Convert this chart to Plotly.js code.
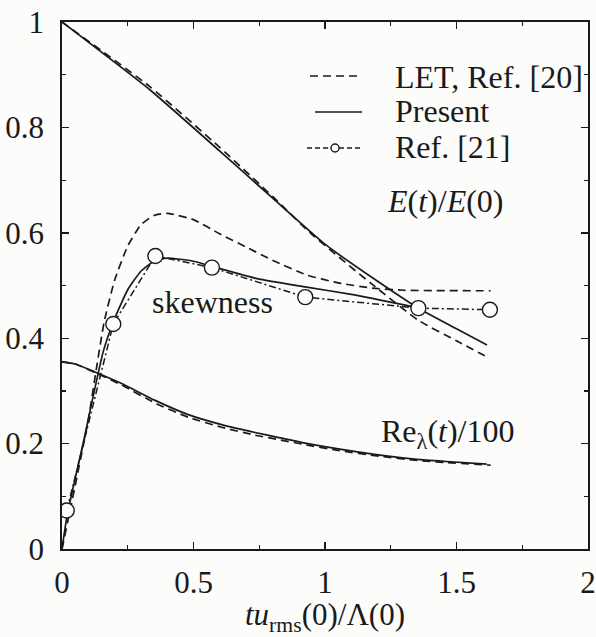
<!DOCTYPE html>
<html>
<head>
<meta charset="utf-8">
<script src="https://cdn.plot.ly/plotly-3.0.1.min.js"></script>
<style>
html,body{margin:0;padding:0;background:#fcfcfb;}
#chart{width:596px;height:637px;}
</style>
</head>
<body>
<div id="chart"></div>
<script>
// ---- data ----
const eX        = [0, 0.335, 0.6, 0.803, 1.006, 1.2, 1.355, 1.5, 1.616];
const ePresent  = [1, 0.871, 0.755, 0.665, 0.576, 0.508, 0.457, 0.418, 0.387];
const eLetX     = [0, 0.335, 0.6, 0.803, 0.95, 1.18, 1.355, 1.5, 1.625];
const eLet      = [1, 0.877, 0.762, 0.668, 0.597, 0.502, 0.434, 0.395, 0.362];

const skX       = [0, 0.02, 0.08, 0.157, 0.2, 0.25, 0.3, 0.35, 0.4, 0.5, 0.6, 0.75, 0.93, 1.1, 1.36];
const skPresent = [0, 0.065, 0.2, 0.375, 0.437, 0.492, 0.527, 0.546, 0.552, 0.546, 0.532, 0.512, 0.497, 0.483, 0.457];
const skLetX    = [0, 0.05, 0.1, 0.13, 0.16, 0.2, 0.25, 0.3, 0.35, 0.4, 0.5, 0.6, 0.7, 0.8, 0.93, 1.05, 1.18, 1.3, 1.63];
const skLet     = [0, 0.12, 0.245, 0.34, 0.43, 0.51, 0.575, 0.615, 0.633, 0.637, 0.625, 0.598, 0.573, 0.548, 0.52, 0.505, 0.495, 0.491, 0.49];

const refX      = [0.018, 0.195, 0.355, 0.57, 0.925, 1.355, 1.627];
const refSk     = [0.073, 0.427, 0.556, 0.534, 0.478, 0.457, 0.454];

const reX       = [0, 0.05, 0.125, 0.227, 0.354, 0.48, 0.607, 0.734, 0.829, 0.924, 1.05, 1.209, 1.35, 1.463, 1.615];
const rePresent = [0.355, 0.351, 0.336, 0.314, 0.282, 0.255, 0.236, 0.221, 0.211, 0.201, 0.19, 0.178, 0.17, 0.166, 0.161];
const reLetX    = [0, 0.05, 0.125, 0.227, 0.354, 0.48, 0.607, 0.734, 0.829, 0.924, 1.05, 1.209, 1.35, 1.463, 1.63];
const reLet     = [0.355, 0.351, 0.335, 0.311, 0.277, 0.25, 0.231, 0.216, 0.207, 0.198, 0.187, 0.176, 0.168, 0.164, 0.159];

const xTicks = [0, 0.5, 1, 1.5, 2];
const yTicks = [0, 0.2, 0.4, 0.6, 0.8, 1];
const legendLabels = ['LET, Ref. [20]', 'Present', 'Ref. [21]'];

// ---- styling ----
const INK = '#1a1a1a';
const BG = '#fcfcfb';
const SERIF = 'Liberation Serif, Times New Roman, serif';
const DASH = '8px,5px';
const DASHDOT = '7px,3px,2px,3px';

function line(x, y, dash, name) {
  return {x: x, y: y, type: 'scatter', mode: 'lines', name: name, showlegend: false,
          line: {color: INK, width: 1.7, dash: dash, shape: 'spline', smoothing: 0.5},
          hoverinfo: 'skip'};
}

const traces = [
  line(eX, ePresent, 'solid', 'E Present'),
  line(eLetX, eLet, DASH, 'E LET'),
  line(skLetX, skLet, DASH, 'Skewness LET'),
  line(skX, skPresent, 'solid', 'Skewness Present'),
  line(reX, rePresent, 'solid', 'Re Present'),
  line(reLetX, reLet, DASH, 'Re LET'),
  {x: refX, y: refSk, type: 'scatter', mode: 'lines+markers', name: 'Ref. [21]', showlegend: false,
   line: {color: INK, width: 1.5, dash: DASHDOT},
   marker: {symbol: 'circle', size: 15, color: BG, line: {color: INK, width: 1.4}}}
];

// plot area in pixels: x 62..588, y 22..549
const L = 62, R = 588, T = 22, B = 549, W = 596, H = 637;
const px = v => (v - L) / (R - L);
const py = v => (B - v) / (B - T);

const axisCommon = {
  showline: true, linecolor: INK, linewidth: 1.8, mirror: 'ticks',
  ticks: 'inside', ticklen: 7, tickwidth: 1.4, tickcolor: INK,
  showgrid: false, zeroline: false,
  tickfont: {family: SERIF, size: 31, color: INK}
};

const layout = {
  width: W, height: H,
  margin: {l: L, r: W - R, t: T, b: H - B},
  paper_bgcolor: BG, plot_bgcolor: BG,
  font: {family: SERIF, color: INK},
  showlegend: false,
  xaxis: Object.assign({}, axisCommon, {
    range: [0, 2], tickvals: xTicks, ticktext: xTicks.map(String),
    ticklabelstandoff: 5,
    minor: {ticks: 'inside', ticklen: 4, tickwidth: 1.2, tickcolor: INK, dtick: 0.25},
    title: {text: '<i>tu</i><sub>rms</sub>(0)/Λ(0)', font: {family: SERIF, size: 31, color: INK}, standoff: 4}
  }),
  yaxis: Object.assign({}, axisCommon, {
    range: [0, 1], tickvals: yTicks, ticktext: yTicks.map(String),
    ticklabelstandoff: 10,
    minor: {ticks: 'inside', ticklen: 4, tickwidth: 1.2, tickcolor: INK, dtick: 0.1}
  }),
  annotations: [
    {xref: 'paper', yref: 'paper', x: px(393), y: py(77), xanchor: 'left', yanchor: 'middle',
     text: legendLabels[0], showarrow: false, font: {family: SERIF, size: 32, color: INK}},
    {xref: 'paper', yref: 'paper', x: px(393), y: py(111), xanchor: 'left', yanchor: 'middle',
     text: legendLabels[1], showarrow: false, font: {family: SERIF, size: 32, color: INK}},
    {xref: 'paper', yref: 'paper', x: px(393), y: py(147), xanchor: 'left', yanchor: 'middle',
     text: legendLabels[2], showarrow: false, font: {family: SERIF, size: 32, color: INK}},
    {xref: 'paper', yref: 'paper', x: px(445), y: py(201), xanchor: 'center', yanchor: 'middle',
     text: '<i>E</i>(<i>t</i>)/<i>E</i>(0)', showarrow: false, font: {family: SERIF, size: 32, color: INK}},
    {xref: 'paper', yref: 'paper', x: px(212), y: py(302), xanchor: 'center', yanchor: 'middle',
     text: 'skewness', showarrow: false, font: {family: SERIF, size: 32, color: INK}},
    {xref: 'paper', yref: 'paper', x: px(448), y: py(433), xanchor: 'center', yanchor: 'middle',
     text: 'Re<sub>λ</sub>(<i>t</i>)/100', showarrow: false, font: {family: SERIF, size: 32, color: INK}}
  ],
  shapes: [
    {type: 'line', xref: 'paper', yref: 'paper', x0: px(310), x1: px(360), y0: py(76), y1: py(76),
     line: {color: INK, width: 1.5, dash: DASH}},
    {type: 'line', xref: 'paper', yref: 'paper', x0: px(315), x1: px(362), y0: py(112), y1: py(112),
     line: {color: INK, width: 1.5}},
    {type: 'line', xref: 'paper', yref: 'paper', x0: px(307), x1: px(363), y0: py(148), y1: py(148),
     line: {color: INK, width: 1.4, dash: '5px,3px'}},
    {type: 'circle', xref: 'paper', yref: 'paper', x0: px(331), x1: px(339), y0: py(144), y1: py(152),
     fillcolor: BG, line: {color: INK, width: 1.4}}
  ]
};

Plotly.newPlot('chart', traces, layout, {staticPlot: true, displayModeBar: false});
</script>
</body>
</html>
